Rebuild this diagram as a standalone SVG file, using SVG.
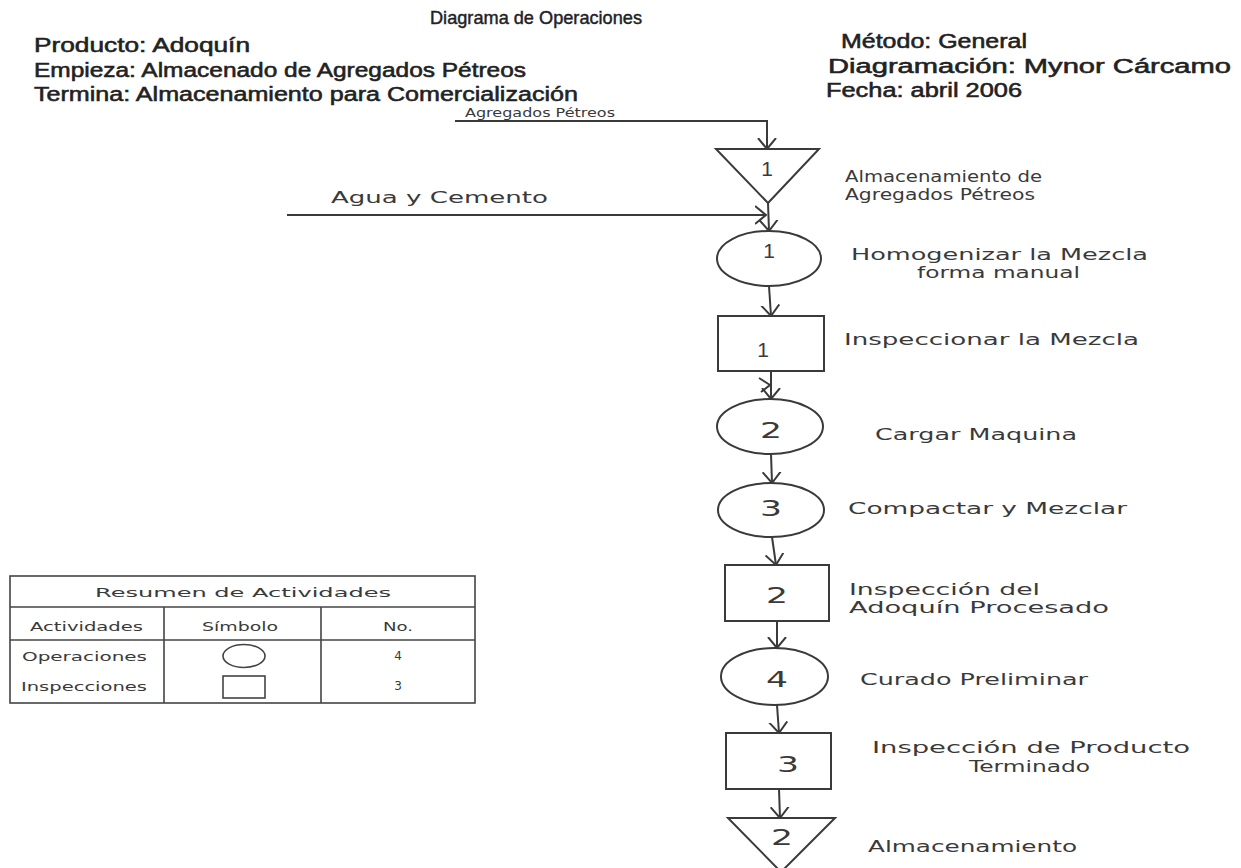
<svg xmlns="http://www.w3.org/2000/svg" width="1241" height="868" viewBox="0 0 1241 868">
<defs>
<style>
.hd{font-family:"Liberation Sans",Arial,sans-serif;font-size:20px;fill:#222;stroke:#222;stroke-width:0.55}
.tt{font-family:"Liberation Sans",Arial,sans-serif;font-size:19px;fill:#222;stroke:#222;stroke-width:0.45}
.lb{font-family:"DejaVu Sans",sans-serif;font-size:16px;fill:#3a3a3a}
.sm{font-family:"DejaVu Sans",sans-serif;font-size:11.5px;fill:#3a3a3a}
.tb{font-family:"DejaVu Sans",sans-serif;font-size:12px;fill:#3a3a3a}
.num{font-family:"DejaVu Sans",sans-serif;font-size:22px;fill:#3a3a3a;text-anchor:middle}
.one{font-family:"Liberation Sans",Arial,sans-serif;font-size:21px;fill:#3a3a3a;text-anchor:middle}
.shp{fill:none;stroke:#3a3a3a;stroke-width:2}
.ln{fill:none;stroke:#3a3a3a;stroke-width:2}
.tl{fill:none;stroke:#444;stroke-width:1.6}
</style>
<marker id="arr" markerUnits="userSpaceOnUse" viewBox="0 0 12 20" markerWidth="12" markerHeight="20" refX="11" refY="10" orient="auto">
<path d="M0,1 L11,10 L0,19" fill="none" stroke="#3a3a3a" stroke-width="2"/>
</marker>
</defs>
<rect width="1241" height="868" fill="#fff"/>

<g id="header">
<text class="tt" x="430" y="24" textLength="212" lengthAdjust="spacingAndGlyphs">Diagrama de Operaciones</text>
<text class="hd" x="34" y="52" textLength="216" lengthAdjust="spacingAndGlyphs">Producto: Adoquín</text>
<text class="hd" x="34" y="77" textLength="492" lengthAdjust="spacingAndGlyphs">Empieza: Almacenado de Agregados Pétreos</text>
<text class="hd" x="34" y="101" textLength="544" lengthAdjust="spacingAndGlyphs">Termina: Almacenamiento para Comercialización</text>
<text class="hd" x="841" y="48" textLength="186" lengthAdjust="spacingAndGlyphs">Método: General</text>
<text class="hd" x="828" y="73" textLength="403" lengthAdjust="spacingAndGlyphs">Diagramación: Mynor Cárcamo</text>
<text class="hd" x="826" y="97" textLength="196" lengthAdjust="spacingAndGlyphs">Fecha: abril 2006</text>
</g>

<g id="connectors">
<path class="ln" d="M455,121 H767 V149" marker-end="url(#arr)"/>
<path class="ln" d="M287,215 H766" marker-end="url(#arr)"/>
<path class="ln" d="M768,203 L769,231" marker-end="url(#arr)"/>
<path class="ln" d="M769,286 L771,316" marker-end="url(#arr)"/>
<path class="ln" d="M771,371 L771,399" marker-end="url(#arr)"/>
<polyline class="ln" points="759,378 770,385 761,392"/>
<path class="ln" d="M771,454 L772,483" marker-end="url(#arr)"/>
<path class="ln" d="M772,537 L776,565" marker-end="url(#arr)"/>
<path class="ln" d="M777,621 L777,648" marker-end="url(#arr)"/>
<path class="ln" d="M777,705 L779,733" marker-end="url(#arr)"/>
<path class="ln" d="M779,789 L780,818" marker-end="url(#arr)"/>
</g>

<g id="in-agregados">
<text class="sm" x="465" y="117" textLength="150" lengthAdjust="spacingAndGlyphs">Agregados Pétreos</text>
</g>
<g id="in-agua">
<text class="lb" x="331" y="203" font-size="17" textLength="217" lengthAdjust="spacingAndGlyphs">Agua y Cemento</text>
</g>

<g id="alm1">
<polygon class="shp" points="716,149 819,149 768,203"/>
<text class="one" x="767" y="176">1</text>
<text class="lb" x="845" y="182" textLength="197" lengthAdjust="spacingAndGlyphs">Almacenamiento de</text>
<text class="lb" x="845" y="200" textLength="190" lengthAdjust="spacingAndGlyphs">Agregados Pétreos</text>
</g>

<g id="op1">
<ellipse class="shp" cx="769" cy="258.5" rx="52" ry="27.5"/>
<text class="one" x="769" y="258">1</text>
<text class="lb" x="851" y="260" textLength="297" lengthAdjust="spacingAndGlyphs">Homogenizar la Mezcla</text>
<text class="lb" x="917" y="278" textLength="163" lengthAdjust="spacingAndGlyphs">forma manual</text>
</g>

<g id="in1">
<rect class="shp" x="718" y="316" width="106" height="55"/>
<text class="one" x="763" y="357">1</text>
<text class="lb" x="844" y="345" textLength="295" lengthAdjust="spacingAndGlyphs">Inspeccionar la Mezcla</text>
</g>

<g id="op2">
<ellipse class="shp" cx="770" cy="426.5" rx="53" ry="27.5"/>
<text class="num" x="771" y="438" textLength="22" lengthAdjust="spacingAndGlyphs">2</text>
<text class="lb" x="875" y="440" textLength="202" lengthAdjust="spacingAndGlyphs">Cargar Maquina</text>
</g>

<g id="op3">
<ellipse class="shp" cx="771" cy="510" rx="53" ry="27"/>
<text class="num" x="771" y="516" textLength="22" lengthAdjust="spacingAndGlyphs">3</text>
<text class="lb" x="848" y="514" textLength="279" lengthAdjust="spacingAndGlyphs">Compactar y Mezclar</text>
</g>

<g id="in2">
<rect class="shp" x="725" y="565" width="104" height="56"/>
<text class="num" x="777" y="603" textLength="22" lengthAdjust="spacingAndGlyphs">2</text>
<text class="lb" x="849" y="595" textLength="191" lengthAdjust="spacingAndGlyphs">Inspección del</text>
<text class="lb" x="849" y="613" textLength="260" lengthAdjust="spacingAndGlyphs">Adoquín Procesado</text>
</g>

<g id="op4">
<ellipse class="shp" cx="774.5" cy="676.5" rx="53.5" ry="28.5"/>
<text class="num" x="777" y="687" textLength="22" lengthAdjust="spacingAndGlyphs">4</text>
<text class="lb" x="860" y="685" textLength="228" lengthAdjust="spacingAndGlyphs">Curado Preliminar</text>
</g>

<g id="in3">
<rect class="shp" x="726" y="733" width="105" height="56"/>
<text class="num" x="788" y="772" textLength="22" lengthAdjust="spacingAndGlyphs">3</text>
<text class="lb" x="872" y="753" textLength="318" lengthAdjust="spacingAndGlyphs">Inspección de Producto</text>
<text class="lb" x="969" y="772" textLength="121" lengthAdjust="spacingAndGlyphs">Terminado</text>
</g>

<g id="alm2">
<polygon class="shp" points="728,818 835,818 781,872"/>
<text class="num" x="782" y="845" textLength="22" lengthAdjust="spacingAndGlyphs">2</text>
<text class="lb" x="868" y="852" textLength="209" lengthAdjust="spacingAndGlyphs">Almacenamiento</text>
</g>

<g id="resumen">
<rect class="tl" x="10" y="576" width="465" height="127"/>
<line class="tl" x1="10" y1="607" x2="475" y2="607"/>
<line class="tl" x1="10" y1="640" x2="475" y2="640"/>
<line class="tl" x1="164" y1="607" x2="164" y2="703"/>
<line class="tl" x1="321" y1="607" x2="321" y2="703"/>
<text class="tb" x="95" y="597" font-size="14" textLength="296" lengthAdjust="spacingAndGlyphs">Resumen de Actividades</text>
<text class="tb" x="30" y="631" textLength="113" lengthAdjust="spacingAndGlyphs">Actividades</text>
<text class="tb" x="202" y="631" textLength="76" lengthAdjust="spacingAndGlyphs">Símbolo</text>
<text class="tb" x="383" y="631" textLength="30" lengthAdjust="spacingAndGlyphs">No.</text>
<text class="tb" x="22" y="661" textLength="125" lengthAdjust="spacingAndGlyphs">Operaciones</text>
<text class="tb" x="21" y="691" textLength="126" lengthAdjust="spacingAndGlyphs">Inspecciones</text>
<ellipse class="tl" cx="244" cy="656" rx="21" ry="11.5"/>
<rect class="tl" x="223" y="676" width="42" height="22"/>
<text class="tb" x="398" y="660" text-anchor="middle">4</text>
<text class="tb" x="398" y="690" text-anchor="middle">3</text>
</g>
</svg>
